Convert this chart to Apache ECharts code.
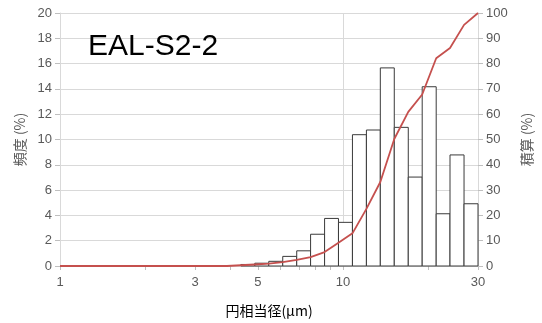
<!DOCTYPE html>
<html><head><meta charset="utf-8">
<script src="https://cdn.jsdelivr.net/npm/echarts@6/dist/echarts.min.js"></script>
<style>html,body{margin:0;padding:0;background:#fff}#c{width:542px;height:323px}</style>
</head><body><div id="c"></div>
<script>
// Histogram bins (µm, log-spaced) and frequency (%)
const binLower = [4.356, 4.88, 5.467, 6.125, 6.863, 7.683, 8.61, 9.64, 10.8, 12.1, 13.55, 15.18, 17.01, 19.05, 21.35, 23.89, 26.78];
const binUpper = [4.88, 5.467, 6.125, 6.863, 7.683, 8.61, 9.64, 10.8, 12.1, 13.55, 15.18, 17.01, 19.05, 21.35, 23.89, 26.78, 30];
const frequency = [0.12, 0.22, 0.37, 0.76, 1.2, 2.51, 3.76, 3.45, 10.38, 10.75, 15.66, 10.96, 7.03, 14.17, 4.13, 8.78, 4.92];
// Cumulative curve (%)
const cumX = [1, 3.889, 4.356, 4.88, 5.467, 6.125, 6.863, 7.683, 8.61, 9.64, 10.8, 12.1, 13.55, 15.18, 17.01, 19.05, 21.35, 23.89, 26.78, 30];
const cumY = [0, 0, 0.3, 0.6, 0.9, 1.5, 2.4, 3.5, 5.5, 9.2, 12.9, 22.6, 33.2, 50.2, 60.9, 67.8, 82.1, 86.2, 95.3, 100];
// Axis tick values
const xLabelValues = [1, 3, 5, 10, 30];
const xTickValues = [1, 2, 3, 4, 5, 6, 7, 8, 9, 10, 20, 30];
const titleText = 'EAL-S2-2';
const xName = '円相当径(μm)';
const yLeftName = '頻度 (%)';
const yRightName = '積算 (%)';

const chart = echarts.init(document.getElementById('c'), null, {renderer: 'canvas'});
const barData = binLower.map((lo, i) => [lo, binUpper[i], frequency[i]]);
const lineData = cumX.map((x, i) => [x, cumY[i]]);
const gray = '#595959';
const gridColor = '#d9d9d9';
const numFont = 'Liberation Sans';
const cjkFont = 'Noto Sans CJK JP';

chart.setOption({
  animation: false,
  backgroundColor: '#fff',
  title: {
    text: titleText, left: 83, top: 27,
    textStyle: {fontFamily: numFont, fontSize: 30, fontWeight: 'normal', color: '#000'}
  },
  grid: {left: 60, right: 60, top: 13, bottom: 55},
  xAxis: [{
    type: 'log', logBase: 10, min: 1, max: 30,
    name: xName, nameLocation: 'middle', nameGap: 38,
    nameTextStyle: {fontFamily: cjkFont, fontSize: 14, color: '#000'},
    axisLine: {show: true, lineStyle: {color: gridColor, width: 1}},
    axisTick: {show: true, inside: false, length: 4, customValues: xTickValues, lineStyle: {color: '#bfbfbf'}},
    axisLabel: {show: true, customValues: xLabelValues, margin: 10, fontFamily: numFont, fontSize: 13, color: gray},
    splitLine: {show: false}
  }, {
    type: 'log', logBase: 10, min: 1, max: 30, position: 'bottom',
    axisLine: {show: false}, axisTick: {show: false}, axisLabel: {show: false},
    splitLine: {show: true, lineStyle: {color: gridColor, width: 1}}
  }],
  yAxis: [{
    type: 'value', min: 0, max: 20, interval: 2,
    name: yLeftName, nameLocation: 'middle', nameGap: 32, nameRotate: 90,
    nameTextStyle: {fontFamily: cjkFont, fontSize: 14, color: gray},
    axisLine: {show: true, lineStyle: {color: gridColor}},
    axisTick: {show: true, length: 5, lineStyle: {color: '#bfbfbf'}},
    axisLabel: {margin: 8, fontFamily: numFont, fontSize: 13, color: gray},
    splitLine: {show: true, lineStyle: {color: gridColor, width: 1}}
  }, {
    type: 'value', min: 0, max: 100, interval: 10, position: 'right',
    name: yRightName, nameLocation: 'middle', nameGap: 42, nameRotate: 90,
    nameTextStyle: {fontFamily: cjkFont, fontSize: 14, color: gray},
    axisLine: {show: true, lineStyle: {color: gridColor}},
    axisTick: {show: true, length: 5, lineStyle: {color: '#bfbfbf'}},
    axisLabel: {margin: 8, fontFamily: numFont, fontSize: 13, color: gray},
    splitLine: {show: false}
  }],
  series: [{
    type: 'custom', xAxisIndex: 0, yAxisIndex: 0, z: 2,
    data: barData,
    encode: {x: [0, 1], y: 2},
    renderItem: function (params, api) {
      const p0 = api.coord([api.value(0), 0]);
      const p1 = api.coord([api.value(1), api.value(2)]);
      return {
        type: 'rect',
        shape: {x: p0[0], y: p1[1], width: p1[0] - p0[0], height: p0[1] - p1[1]},
        style: {fill: '#fff', stroke: '#3a3a3a', lineWidth: 1}
      };
    }
  }, {
    type: 'line', xAxisIndex: 0, yAxisIndex: 1, z: 5,
    data: lineData, showSymbol: false, symbol: 'none',
    lineStyle: {color: '#c5504e', width: 1.8}
  }]
});
</script></body></html>
